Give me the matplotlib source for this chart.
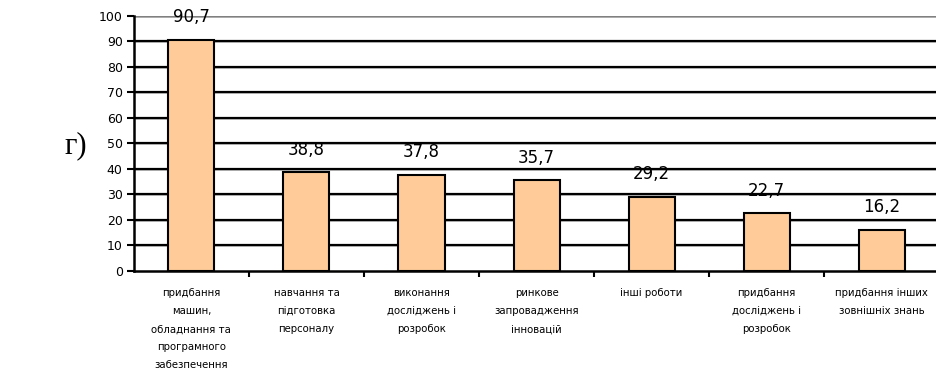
import matplotlib.pyplot as plt

plt.rcParams['font.family'] = ['DejaVu Sans']

# частка підприємств за напрямами інноваційної діяльності, %
categories = [
    'придбання\nмашин,\nобладнання та\nпрограмного\nзабезпечення',
    'навчання та\nпідготовка\nперсоналу',
    'виконання\nдосліджень і\nрозробок',
    'ринкове\nзапровадження\nінновацій',
    'інші роботи',
    'придбання\nдосліджень і\nрозробок',
    'придбання інших\nзовнішніх знань',
]
values = [90.7, 38.8, 37.8, 35.7, 29.2, 22.7, 16.2]
labels = ['90,7', '38,8', '37,8', '35,7', '29,2', '22,7', '16,2']
yticks = list(range(0, 101, 10))

fig = plt.figure(figsize=(9.36, 3.73), dpi=100)
ax = fig.add_axes([0.143, 0.2735, 0.8605, 0.6836])

x = list(range(len(values)))

# горизонтальні лінії сітки
for t in yticks[1:]:
    col = '#808080' if t == 100 else 'black'
    ax.axhline(t, color=col, lw=1.6, zorder=1)
    ax.axhline(t - 0.35, color='#a0a0a0', lw=0.6, zorder=1)

ax.bar(x, values, width=0.4, color='#FFCC99', edgecolor='black',
       linewidth=1.5, zorder=3)

for xi, v, s in zip(x, values, labels):
    ax.text(xi, v + 8.8, s, ha='center', va='center', fontsize=12,
            color='black', zorder=4)

ax.set_xlim(-0.5, len(values) - 0.5)
ax.set_ylim(0, 100)
ax.set_yticks(yticks)
ax.tick_params(axis='y', labelsize=9, length=5, width=1.5, direction='out', pad=3)

# мітки між категоріями на осі x
ax.set_xticks([i + 0.5 for i in x[:-1]])
ax.set_xticklabels([])
ax.tick_params(axis='x', length=4, width=1.5, direction='out')
for xi, c in zip(x, categories):
    ax.text(xi, -6.8, c, ha='center', va='top', fontsize=7.3,
            linespacing=2.0, transform=ax.transData, clip_on=False)

for side in ['top', 'right']:
    ax.spines[side].set_visible(False)
for side in ['left', 'bottom']:
    ax.spines[side].set_linewidth(1.8)
    ax.spines[side].set_zorder(5)

fig.text(0.081, 0.61, 'г)', fontsize=22, family='Liberation Serif',
         ha='center', va='center')

fig.savefig('out.png', dpi=100)
